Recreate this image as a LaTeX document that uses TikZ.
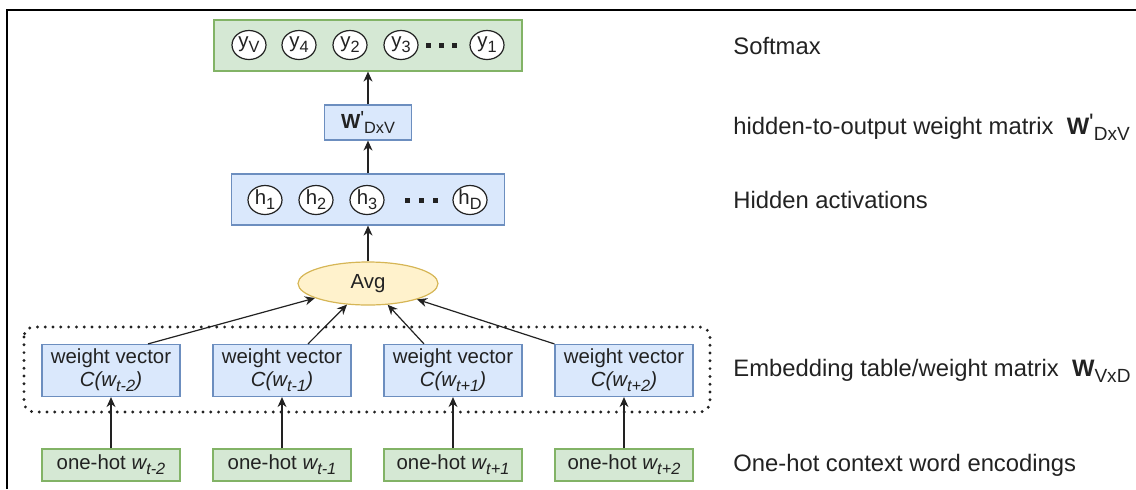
\documentclass[tikz,border=0pt]{standalone}
\usepackage{fontspec}
\setmainfont{Liberation Sans}
\usepackage{xcolor}
\usepackage{tikz}
\usetikzlibrary{arrows.meta, shapes.geometric}

\definecolor{sgreen}{HTML}{D5E8D4}
\definecolor{sgreenline}{HTML}{82B366}
\definecolor{sblue}{HTML}{DAE8FC}
\definecolor{sblueline}{HTML}{6C8EBF}
\definecolor{syellow}{HTML}{FFF2CC}
\definecolor{syellowline}{HTML}{D6B656}
\definecolor{ink}{HTML}{222222}

\newcommand{\lowsub}[1]{\raisebox{-0.45ex}{\scalebox{0.8}{#1}}}

\begin{document}
\begin{tikzpicture}[x=0.5pt, y=-0.5pt,
        boxfont/.style={font=\fontsize{10.2}{11.6}\selectfont, text=ink},
        greenbox/.style={draw=sgreenline, fill=sgreen, line width=0.6pt, inner sep=0pt, boxfont},
        bluebox/.style={draw=sblueline, fill=sblue, line width=0.6pt, inner sep=0pt, boxfont, align=center},
        unit/.style={ellipse, draw=ink, fill=white, line width=0.6pt, inner sep=0pt,
            minimum width=17pt, minimum height=14.5pt, boxfont},
        arr/.style={draw=ink, line width=0.6pt, -{Stealth[length=5pt, width=4.5pt]}},
        sidelabel/.style={anchor=west, inner sep=0pt, font=\fontsize{11.9}{14}\selectfont, text=ink}]
        \useasboundingbox (0,0) rectangle (1136,489);
        \draw[line width=1.3pt] (7,489) -- (7,10) -- (1136,10);

        % output layer
        \node[greenbox, minimum width=154pt, minimum height=25.5pt] at (368, 45.5) (softmax) {};
        \node[unit] at (249, 45) (yV) {y\lowsub{V}};
        \node[unit] at (299, 45) (y4) {y\lowsub{4}};
        \node[unit] at (350, 45) (y2) {y\lowsub{2}};
        \node[unit] at (401, 45) (y3) {y\lowsub{3}};
        \node[unit] at (487, 45) (y1) {y\lowsub{1}};
        \foreach \x in {428, 441, 454}
            \fill[ink] (\x-2.5, 42.5) rectangle (\x+2.5, 47.5);

        \node[bluebox, minimum width=43.5pt, minimum height=17.5pt] at (368, 122.5) (wout)
            {\textbf{W}\raisebox{0.35ex}{\textquotesingle}\lowsub{DxV}};

        % hidden layer
        \node[bluebox, minimum width=136.5pt, minimum height=25.5pt] at (368, 199.5) (hidden) {};
        \node[unit] at (265, 200) (h1) {h\lowsub{1}};
        \node[unit] at (316, 200) (h2) {h\lowsub{2}};
        \node[unit] at (367, 200) (h3) {h\lowsub{3}};
        \node[unit] at (470, 200) (hD) {h\lowsub{D}};
        \foreach \x in {407, 421, 435}
            \fill[ink] (\x-2.5, 197.5) rectangle (\x+2.5, 202.5);

        \node[ellipse, draw=syellowline, fill=syellow, line width=0.6pt, boxfont,
            minimum width=70pt, minimum height=21.5pt, inner sep=0pt] at (368, 283.5) (avg) {Avg};

        % embedding table
        \draw[ink, line width=1.6pt, line cap=round, dash pattern=on 0pt off 3.9pt, rounded corners=5pt]
            (24, 327) rectangle (710, 412);
        \node[bluebox, minimum width=69pt, minimum height=26pt] at (111, 370.5) (c1)
            {weight vector\\\textit{C(w\lowsub{t-2})}};
        \node[bluebox, minimum width=69pt, minimum height=26pt] at (282, 370.5) (c2)
            {weight vector\\\textit{C(w\lowsub{t-1})}};
        \node[bluebox, minimum width=69pt, minimum height=26pt] at (453, 370.5) (c3)
            {weight vector\\\textit{C(w\lowsub{t+1})}};
        \node[bluebox, minimum width=69pt, minimum height=26pt] at (624, 370.5) (c4)
            {weight vector\\\textit{C(w\lowsub{t+2})}};

        % one-hot inputs
        \node[greenbox, minimum width=69pt, minimum height=16pt] at (111, 465) (x1)
            {one-hot \textit{w\lowsub{t-2}}};
        \node[greenbox, minimum width=69pt, minimum height=16pt] at (282, 465) (x2)
            {one-hot \textit{w\lowsub{t-1}}};
        \node[greenbox, minimum width=69pt, minimum height=16pt] at (453, 465) (x3)
            {one-hot \textit{w\lowsub{t+1}}};
        \node[greenbox, minimum width=69pt, minimum height=16pt] at (624, 465) (x4)
            {one-hot \textit{w\lowsub{t+2}}};

        \draw[arr] (x1) -- (c1);
        \draw[arr] (x2) -- (c2);
        \draw[arr] (x3) -- (c3);
        \draw[arr] (x4) -- (c4);

        \draw[arr] ([xshift=18.5pt]c1.north) -- (avg);
        \draw[arr] ([xshift=13pt]c2.north) -- (avg);
        \draw[arr] ([xshift=-14.5pt]c3.north) -- (avg);
        \draw[arr] (c4.north west) -- (avg);

        \draw[arr] (avg) -- (hidden);
        \draw[arr] (hidden) -- (wout);
        \draw[arr] (wout) -- (softmax);

        % side labels
        \node[sidelabel] at (733, 46) (lsoftmax) {Softmax};
        \node[sidelabel] at (733, 127) (lwout)
            {hidden-to-output weight matrix\ \ \textbf{W}\raisebox{0.35ex}{\textquotesingle}\lowsub{DxV}};
        \node[sidelabel] at (733, 200) (lhidden) {Hidden activations};
        \node[sidelabel] at (733, 371) (lembed)
            {Embedding table/weight matrix\ \ \textbf{W}\lowsub{VxD}};
        \node[sidelabel] at (733, 465) (lonehot) {One-hot context word encodings};
    \end{tikzpicture}
\end{document}
